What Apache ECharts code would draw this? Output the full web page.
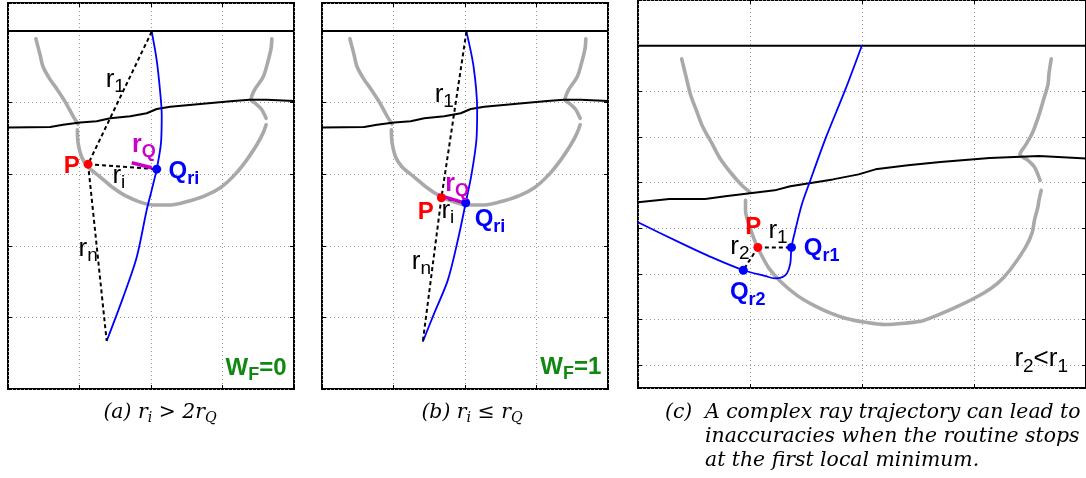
<!DOCTYPE html>
<html><head><meta charset="utf-8">
<script src="https://cdn.jsdelivr.net/npm/echarts@6/dist/echarts.min.js"></script>
<style>html,body{margin:0;padding:0;background:#fff}#c{width:1086px;height:478px}</style>
</head><body><div id="c"></div><script>
// ---------------- data (grid units) ----------------
// panels (a) and (b): same wavefront (gray) and interface (black)
const wavefrontAB = [[0.39,4.89],[0.45,4.66],[0.49,4.50],[0.59,4.32],[0.69,4.18],[0.80,4.01],[0.91,3.81],[0.98,3.70],null,
  [0.97,3.62],[0.98,3.44],[1.03,3.24],[1.12,3.10],[1.29,2.96],[1.47,2.81],[1.64,2.70],[1.85,2.61],[2.03,2.57],[2.27,2.57],[2.48,2.61],[2.76,2.70],[2.97,2.81],[3.17,2.99],[3.34,3.20],[3.48,3.41],[3.57,3.58],[3.61,3.69],null,
  [3.61,3.78],[3.55,3.90],[3.47,3.98],[3.40,4.04],[3.45,4.18],[3.57,4.36],[3.64,4.59],[3.68,4.76],[3.69,4.89]];
const interfaceAB = [[0,3.65],[0.59,3.66],[0.77,3.69],[1.01,3.72],[1.24,3.74],[1.43,3.78],[1.71,3.81],[1.94,3.85],[2.08,3.91],[2.27,3.94],[2.69,3.98],[3.15,4.02],[3.38,4.04],[3.62,4.04],[4.0,4.02]];
const surfaceAB = 5;
const rayA = [[2.01,4.99],[2.08,4.59],[2.13,4.13],[2.15,3.83],[2.14,3.44],[2.08,3.07],[2.01,2.78],[1.94,2.50],[1.80,1.84],[1.61,1.28],[1.38,0.67]];
const rayB = [[2.02,4.99],[2.12,4.50],[2.17,3.90],[2.16,3.48],[2.09,2.99],[2.01,2.60],[1.90,2.08],[1.76,1.52],[1.57,1.06],[1.41,0.66]];
const pointA = [1.12,3.14], qA = [2.08,3.07];
const pointB = [1.67,2.67], qB = [2.01,2.60];
const rQA = [[1.73,3.16],[2.01,3.09]];
const rQB = [[1.62,2.71],[1.99,2.60]];
// panel (c): depth axis pointing down
const wavefrontC = [[0.39,1.29],[0.41,1.49],[0.43,1.69],[0.47,2.08],[0.52,2.41],[0.58,2.79],[0.66,3.14],[0.73,3.46],[0.83,3.79],[0.92,4.04],[1.00,4.21],null,
  [0.96,4.39],[0.96,4.61],[1.00,4.98],[1.04,5.26],[1.09,5.53],[1.17,5.88],[1.27,6.16],[1.42,6.47],[1.57,6.69],[1.72,6.86],[1.85,6.97],[2.03,7.06],[2.20,7.11],[2.38,7.08],[2.55,7.02],[2.84,6.73],[3.08,6.43],[3.21,6.21],[3.32,5.92],[3.46,5.42],[3.52,5.09],[3.54,4.82],[3.57,4.54],[3.58,4.39],[3.60,4.17],null,
  [3.59,3.95],[3.54,3.66],[3.48,3.51],[3.41,3.38],[3.46,3.18],[3.52,2.92],[3.58,2.52],[3.62,2.19],[3.66,1.86],[3.67,1.60],[3.69,1.29]];
const interfaceC = [[0,4.43],[0.28,4.36],[0.60,4.36],[0.78,4.30],[1.22,4.17],[1.36,4.08],[1.74,3.93],[1.97,3.82],[2.12,3.71],[2.41,3.62],[2.70,3.55],[3.14,3.46],[3.58,3.42],[3.92,3.46],[4.0,3.47]];
const surfaceC = 1;
const rayC = [[2.00,0.99],[1.85,1.97],[1.68,3.00],[1.53,4.01],[1.46,4.50],[1.40,5.09],[1.37,5.42],[1.36,5.77],[1.33,5.99],[1.29,6.07],[1.22,6.10],[1.14,6.05],[0.94,5.92],[0.66,5.64],[0.37,5.31],[0,4.87]];
const pointC = [1.07,5.42], q1C = [1.37,5.42], q2C = [0.94,5.92];
// annotation texts and anchors
const labelsA = [['r1',1.50,4.32],['rQ',1.90,3.40],['P',0.89,3.11],['ri',1.55,2.98],['Qri',2.46,3.04],['rn',1.12,1.96],['WF0',3.47,0.29]];
const labelsB = [['r1',1.71,4.11],['rQ',1.89,2.86],['P',1.45,2.46],['ri',1.76,2.49],['Qri',2.35,2.37],['rn',1.39,1.78],['WF1',3.48,0.30]];
const labelsC = [['P',1.03,4.98],['r1',1.25,5.05],['r2',0.91,5.40],['Qr1',1.64,5.45],['Qr2',0.98,6.40],['r2<r1',3.60,7.86]];

// ---------------- chart ----------------
const sans = '"Liberation Sans", Arial, sans-serif';
const serif = '"DejaVu Serif", serif';
const texts = {
  r1:'{r|r}{rs|1}', ri:'{r|r}{rs|i}', rn:'{r|r}{rs|n}', r2:'{r|r}{rs|2}', rQ:'{m|r}{ms|Q}', P:'{p|P}',
  Qri:'{q|Q}{qs|ri}', Qr1:'{q|Q}{qs|r1}', Qr2:'{q|Q}{qs|r2}', WF0:'{w|W}{ws|F}{w|=0}', WF1:'{w|W}{ws|F}{w|=1}',
  'r2<r1':'{r|r}{rs|2}{r|<r}{rs|1}'
};
const rich = {
  r:{fontFamily:sans,fontSize:26,color:'#000',verticalAlign:'middle'},
  rs:{fontFamily:sans,fontSize:19,color:'#000',verticalAlign:'middle',padding:[15,0,0,0]},
  m:{fontFamily:sans,fontSize:25,fontWeight:'bold',color:'#cc00cc',verticalAlign:'middle'},
  ms:{fontFamily:sans,fontSize:18,fontWeight:'bold',color:'#cc00cc',verticalAlign:'middle',padding:[14,0,0,0]},
  p:{fontFamily:sans,fontSize:24,fontWeight:'bold',color:'#ff0000',verticalAlign:'middle'},
  q:{fontFamily:sans,fontSize:24,fontWeight:'bold',color:'#0000ff',verticalAlign:'middle'},
  qs:{fontFamily:sans,fontSize:18,fontWeight:'bold',color:'#0000ff',verticalAlign:'middle',padding:[15,0,0,0]},
  w:{fontFamily:sans,fontSize:24,fontWeight:'bold',color:'#118811',verticalAlign:'middle'},
  ws:{fontFamily:sans,fontSize:18,fontWeight:'bold',color:'#118811',verticalAlign:'middle',padding:[14,0,0,0]}
};

const grids = [
  {left:8, top:3, width:286, bottom:89, show:true, borderColor:'#000', borderWidth:2},
  {left:322, top:3, width:286, bottom:89, show:true, borderColor:'#000', borderWidth:2},
  {left:638, top:0, width:457, bottom:90, show:true, borderColor:'#000', borderWidth:2}
];
const yRange = [{min:0,max:5.39,inverse:false},{min:0,max:5.39,inverse:false},{min:0,max:8.5,inverse:true}];
const xAxes = [], yAxes = [];
const tick = () => ({inside:true, length:4, lineStyle:{color:'#000', width:1}});
const split = on => ({show:on, lineStyle:{color:'#9a9a9a', type:[1,3], width:1}});
for (let g = 0; g < 3; g++) {
  ['bottom','top'].forEach((pos,i) => xAxes.push({type:'value', gridIndex:g, position:pos, min:0, max:4, interval:1,
    axisLine:{show:false, onZero:false}, axisTick:tick(), axisLabel:{show:false}, splitLine:split(i===0)}));
  ['left','right'].forEach((pos,i) => yAxes.push({type:'value', gridIndex:g, position:pos, min:yRange[g].min, max:yRange[g].max,
    inverse:yRange[g].inverse, interval:1, axisLine:{show:false, onZero:false}, axisTick:tick(), axisLabel:{show:false}, splitLine:split(i===0)}));
}
function splitNull(arr){const out=[];let cur=[];arr.forEach(p=>{if(p===null){if(cur.length)out.push(cur);cur=[];}else cur.push(p);});if(cur.length)out.push(cur);return out;}
const series = [];
function line(g, data, style, z, smooth){
  series.push({type:'line', xAxisIndex:g*2, yAxisIndex:g*2, data, showSymbol:false, symbol:'none', smooth:smooth||false,
    lineStyle:style, z, silent:true, animation:false, clip:true});
}
function dots(g, data, color, z){
  series.push({type:'scatter', xAxisIndex:g*2, yAxisIndex:g*2, data, symbolSize:9, itemStyle:{color, opacity:1}, z, animation:false, silent:true});
}
function labels(g, list){
  series.push({type:'scatter', xAxisIndex:g*2, yAxisIndex:g*2, symbolSize:0, z:20, animation:false, silent:true,
    itemStyle:{opacity:1},
    data:list.map(l => ({value:[l[1], l[2]], label:{formatter:texts[l[0]]}})),
    label:{show:true, position:'inside', align:'center', verticalAlign:'middle', rich}});
}
const gray = {color:'#a9a9a9', width:3.6, cap:'round', join:'round'};
const blk = {color:'#000', width:2};
const blue = {color:'#0000ff', width:1.8};
const dash = {color:'#000', width:2, type:[4,3]};
const mag = {color:'#cc00cc', width:3.5};
function surface(g, y){ line(g, [[0,y],[4,y]], {color:'#000', width:2}, 4); }

// panel a
splitNull(wavefrontAB).forEach(s => line(0, s, gray, 2, 0.3));
line(0, interfaceAB, blk, 3);
surface(0, surfaceAB);
line(0, rayA, blue, 5, 0.3);
line(0, [rayA[0], pointA], dash, 6);
line(0, [pointA, qA], dash, 6);
line(0, [pointA, rayA[rayA.length-1]], dash, 6);
line(0, rQA, mag, 7);
dots(0, [pointA], '#ff0000', 9); dots(0, [qA], '#0000ff', 9);
labels(0, labelsA);
// panel b
splitNull(wavefrontAB).forEach(s => line(1, s, gray, 2, 0.3));
line(1, interfaceAB, blk, 3);
surface(1, surfaceAB);
line(1, rayB, blue, 5, 0.3);
line(1, [rayB[0], pointB], dash, 6);
line(1, [pointB, qB], dash, 6);
line(1, [pointB, rayB[rayB.length-1]], dash, 6);
line(1, rQB, mag, 7);
dots(1, [pointB], '#ff0000', 9); dots(1, [qB], '#0000ff', 9);
labels(1, labelsB);
// panel c
splitNull(wavefrontC).forEach(s => line(2, s, gray, 2, 0.3));
line(2, interfaceC, blk, 3);
surface(2, surfaceC);
line(2, rayC, blue, 5, 0.3);
line(2, [pointC, q1C], dash, 6);
line(2, [pointC, q2C], dash, 6);
dots(2, [pointC], '#ff0000', 9); dots(2, [q1C, q2C], '#0000ff', 9);
labels(2, labelsC);

// captions
const mctx = document.createElement('canvas').getContext('2d');
mctx.font = 'italic 20px ' + serif;
const capSize = Math.min(22, 20 * 376 / mctx.measureText('A complex ray trajectory can lead to').width);
const capRich = {
  t:{fontFamily:serif, fontStyle:'italic', fontSize:capSize, fill:'#000', verticalAlign:'middle'},
  s:{fontFamily:serif, fontStyle:'italic', fontSize:capSize*0.7, fill:'#000', verticalAlign:'middle', padding:[capSize*0.5,0,0,0]}
};
function cap(x, y, text, align){
  return {type:'text', x, y, silent:true, style:{text, rich:capRich, align, verticalAlign:'middle', fontFamily:serif, fontStyle:'italic', fontSize:capSize}};
}
const graphic = [
  cap(160, 413, '{t|(a) r}{s|i}{t| > 2r}{s|Q}', 'center'),
  cap(472, 413, '{t|(b) r}{s|i}{t| ≤ r}{s|Q}', 'center'),
  cap(665, 413, '{t|(c)}', 'left'),
  cap(705, 413, '{t|A complex ray trajectory can lead to}', 'left'),
  cap(705, 437, '{t|inaccuracies when the routine stops}', 'left'),
  cap(705, 461, '{t|at the first local minimum.}', 'left')
];

const chart = echarts.init(document.getElementById('c'), null, {renderer:'canvas'});
chart.setOption({animation:false, backgroundColor:'#fff', grid:grids, xAxis:xAxes, yAxis:yAxes, series, graphic});
</script></body></html>
